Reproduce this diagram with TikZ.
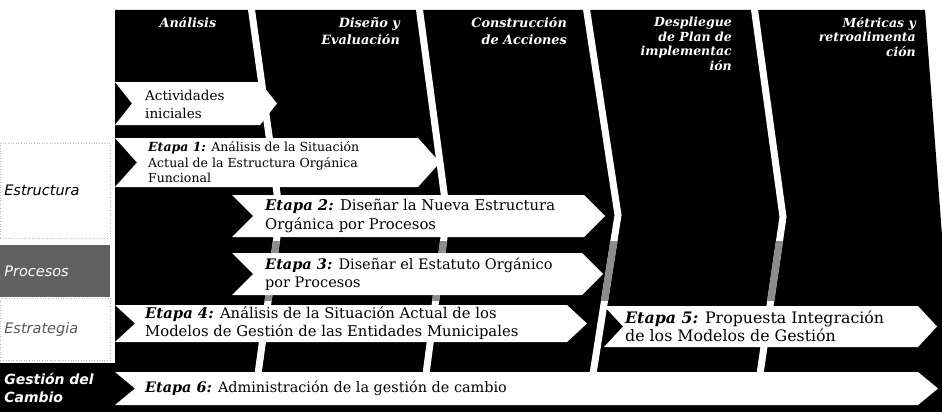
\documentclass[tikz,border=0pt]{standalone}
\usepackage{fontspec}
\setmainfont{DejaVu Serif}
\newfontfamily\lblfont{DejaVu Sans}
\newcommand\chevron[5]{% left, top, bottom, tip x, depth
  \fill[white] (#1,#2) -- ({#4-#5},#2) -- (#4,{(#2+#3)/2}) -- ({#4-#5},#3) -- (#1,#3) -- ({#1+#5},{(#2+#3)/2}) -- cycle;}
\newcommand\gaps{%
  \draw[gapline] (251,6) -- (280,215) -- (258,374);
  \draw[gapline] (419,6) -- (447,215) -- (426,374);
  \draw[gapline] (586,6) -- (618,215) -- (593,374);
  \draw[gapline] (754,6) -- (783,217) -- (760,374);}
\begin{document}
\begin{tikzpicture}[x=1pt,y=-1pt,
  gapline/.style={draw=white,line width=7pt},
  hdr/.style={text=white,align=right,inner sep=0pt,anchor=north east,
    font=\fontsize{12.8}{17}\selectfont\bfseries\itshape},
  hdrtight/.style={hdr,font=\fontsize{12.5}{14.5}\selectfont\bfseries\itshape},
  stagetext/.style={anchor=west,align=left,inner sep=0pt},
  rowbox/.style={anchor=north west,minimum height=#1,text width=102pt,inner xsep=4pt,inner ysep=0pt,align=left,
    draw=gray!55,dotted,line width=0.6pt,font=\lblfont\fontsize{14.5}{18}\selectfont\itshape},
  ]
\useasboundingbox (0,0) rectangle (942,412);
\fill[white] (0,0) rectangle (942,412);
% dark phase columns and bottom band
\fill[black] (115,10) -- (925,10) -- (942,235) -- (942,412) -- (0,412) -- (0,363) -- (115,363) -- cycle;
\gaps
\begin{scope}
  \clip (115,241) rectangle (942,300);
  \tikzset{gapline/.style={draw=black!45,line width=7pt}}
  \gaps
\end{scope}
% phase headers
\node[hdr,anchor=north] (h1) at (188,17) {Análisis};
\node[hdr] (h2) at (400,17) {Diseño y\\Evaluación};
\node[hdr] (h3) at (567,17) {Construcción\\de Acciones};
\node[hdrtight] (h4) at (732,17) {Despliegue\\de Plan de\\implementac\\ión};
\node[hdrtight] (h5) at (916,17) {Métricas y\\retroalimenta\\ción};
% row labels
\node[rowbox=95pt] (estructura) at (0,143) {Estructura};
\node[rowbox=52pt,fill=black!62,draw=none,text=white] (procesos) at (0,245) {Procesos};
\node[rowbox=62pt,text=gray!70!black] (estrategia) at (0,298) {Estrategia};
\node[rowbox=49pt,fill=black,draw=none,text=white,font=\lblfont\fontsize{14}{18}\selectfont\itshape\bfseries] (gestion) at (0,363) {Gestión del\\Cambio};
% stage arrows
\chevron{115}{82}{125}{277}{17}
\chevron{115}{138}{187}{440}{22}
\chevron{232}{195}{237}{605}{21}
\chevron{232}{253}{295}{603}{21}
\chevron{115}{305}{342}{587}{20}
\chevron{604}{306}{347}{937}{19}
\chevron{115}{372}{405}{938}{20}
% stage texts
\node[stagetext,font=\fontsize{13.5}{18}\selectfont] (act) at (145,104) {Actividades\\iniciales};
\node[stagetext,font=\fontsize{12.5}{15.5}\selectfont] (e1) at (148,162.5) {\textbf{\textit{Etapa 1:}} Análisis de la Situación\\Actual de la Estructura Orgánica\\Funcional};
\node[stagetext,font=\fontsize{14.8}{18.5}\selectfont] (e2) at (265,216) {\textbf{\textit{Etapa 2:}} Diseñar la Nueva Estructura\\Orgánica por Procesos};
\node[stagetext,font=\fontsize{14.5}{18.5}\selectfont] (e3) at (265,274) {\textbf{\textit{Etapa 3:}} Diseñar el Estatuto Orgánico\\por Procesos};
\node[stagetext,font=\fontsize{14.8}{18}\selectfont] (e4) at (145,323.5) {\textbf{\textit{Etapa 4:}} Análisis de la Situación Actual de los\\Modelos de Gestión de las Entidades Municipales};
\node[stagetext,font=\fontsize{15.8}{18}\selectfont] (e5) at (625,326.5) {\textbf{\textit{Etapa 5:}} Propuesta Integración\\de los Modelos de Gestión};
\node[stagetext,font=\fontsize{14.4}{18}\selectfont] (e6) at (145,388.5) {\textbf{\textit{Etapa 6:}} Administración de la gestión de cambio};
\end{tikzpicture}
\end{document}
